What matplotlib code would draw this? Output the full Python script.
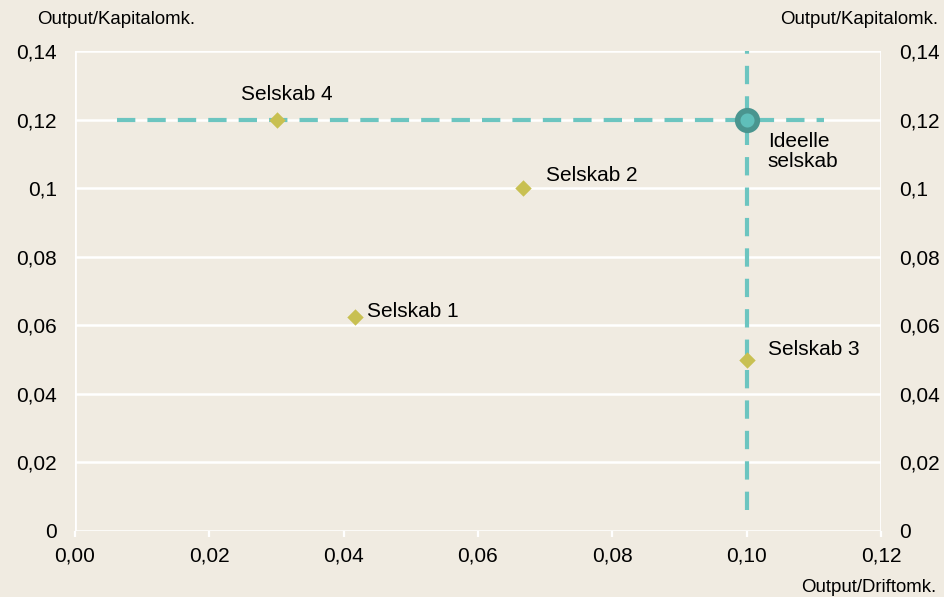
import matplotlib
matplotlib.use("Agg")
import matplotlib.pyplot as plt

plt.rcParams['font.family'] = ['Liberation Sans', 'DejaVu Sans']

# Company data: output per operating cost (x) and output per capital cost (y)
names = ["Selskab 1", "Selskab 2", "Selskab 3", "Selskab 4"]
drift = [0.0417, 0.0667, 0.100, 0.030]
kapital = [0.0625, 0.100, 0.050, 0.120]

# Ideal company = best value on each axis
ideal_x = 0.100
ideal_y = 0.120
ideal_label = "Ideelle\nselskab"

# Extent of the dashed frontier lines
hline_x = [0.00625, 0.1115]
vline_y = [0.006, 0.1415]

x_ticks = [0.00, 0.02, 0.04, 0.06, 0.08, 0.10, 0.12]
x_labels = ["0,00", "0,02", "0,04", "0,06", "0,08", "0,10", "0,12"]
y_ticks = [0, 0.02, 0.04, 0.06, 0.08, 0.10, 0.12, 0.14]
y_labels = ["0", "0,02", "0,04", "0,06", "0,08", "0,1", "0,12", "0,14"]

bg = "#F0EBE1"
teal = "#6CC5C0"
teal_dark = "#4A958F"
olive = "#C8C052"
fs = 15

fig = plt.figure(figsize=(9.44, 5.97), dpi=100, facecolor=bg)
ax = fig.add_axes([75 / 944, 1 - 531 / 597, (881 - 75) / 944, (531 - 51) / 597])
ax.set_facecolor(bg)
ax.set_xlim(0, 0.12)
ax.set_ylim(0, 0.14)

for y in y_ticks:
    ax.axhline(y, color="white", lw=1.8, zorder=1)

for s in ax.spines.values():
    s.set_visible(False)
ax.axvline(0, color="white", lw=2, zorder=1)
ax.axvline(0.12, color="white", lw=2, zorder=1)

ax.set_xticks(x_ticks)
ax.set_xticklabels(x_labels, fontsize=fs)
ax.tick_params(axis="x", length=4, width=1.6, color="white", pad=7.5)
ax.set_yticks(y_ticks)
ax.set_yticklabels(y_labels, fontsize=fs)
ax.tick_params(axis="y", length=0, pad=13, labelleft=True, labelright=True,
               left=False, right=False)

ax.plot(hline_x, [ideal_y, ideal_y], ls=(0, (4.4, 2.9)), color=teal, lw=3, zorder=2)
ax.plot([ideal_x, ideal_x], vline_y, ls=(0, (4.4, 2.9)), color=teal, lw=3, zorder=2)

ax.scatter(drift, kapital, marker="D", s=70, color=olive, zorder=3, linewidths=0)
ax.scatter([ideal_x], [ideal_y], marker="o", s=200, facecolor="#5FBFBA",
           edgecolor=teal_dark, linewidths=4, zorder=4)

# label offsets in pixels: (dx, dy, horizontal alignment)
offsets = {
    "Selskab 1": (12, 5, "left"),
    "Selskab 2": (23, 13, "left"),
    "Selskab 3": (21, 10, "left"),
    "Selskab 4": (10, 25, "center"),
}
for n, x, y in zip(names, drift, kapital):
    dx, dy, ha = offsets[n]
    ax.annotate(n, (x, y), xytext=(dx, dy), textcoords="offset pixels",
                ha=ha, va="center", fontsize=fs, zorder=5)
ax.annotate(ideal_label, (ideal_x, ideal_y), xytext=(21, -32), textcoords="offset pixels",
            ha="left", va="center", fontsize=fs, linespacing=1.1, zorder=5)

fs_ax = 13.4
fig.text(37 / 944, 1 - 20 / 597, "Output/Kapitalomk.", fontsize=fs_ax, ha="left", va="center")
fig.text(938 / 944, 1 - 20 / 597, "Output/Kapitalomk.", fontsize=fs_ax, ha="right", va="center")
fig.text(936 / 944, 1 - 587 / 597, "Output/Driftomk.", fontsize=fs_ax, ha="right", va="center")

fig.savefig("out.png", dpi=100, facecolor=bg)
